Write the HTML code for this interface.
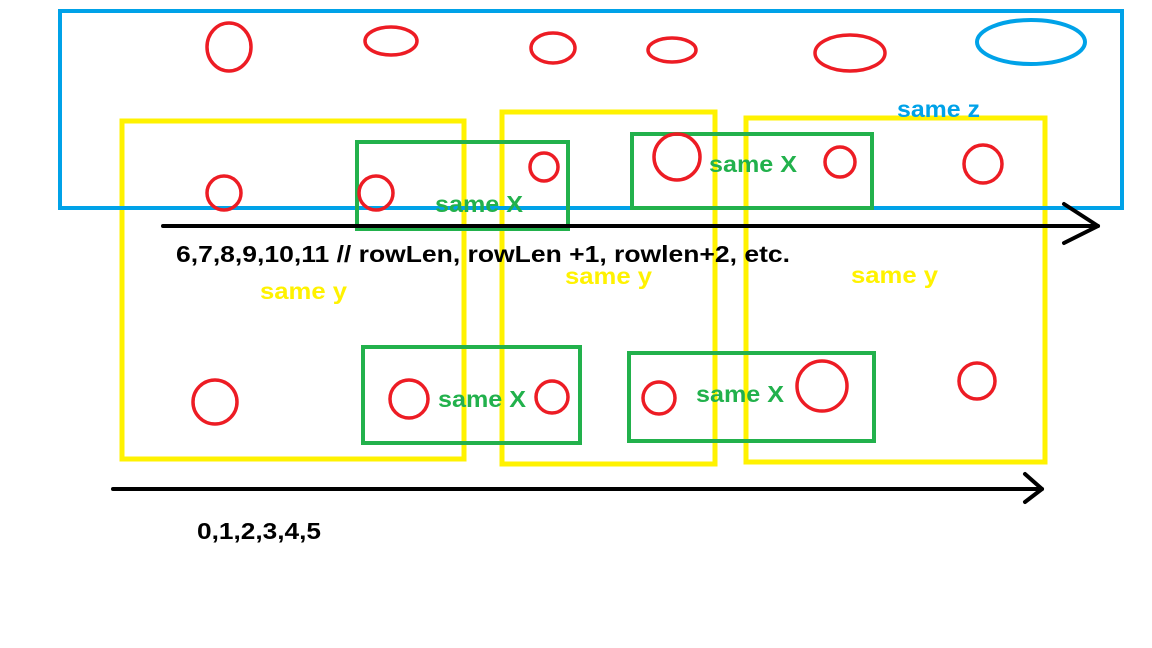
<!DOCTYPE html>
<html><head><style>html,body{margin:0;padding:0;background:#fff}svg{display:block}text{font-family:"Liberation Sans",sans-serif;font-weight:bold;font-size:23px}</style></head>
<body>
<svg width="1152" height="648" viewBox="0 0 1152 648" xmlns="http://www.w3.org/2000/svg">
<rect width="1152" height="648" fill="#fff"/>
<g fill="none" stroke-width="4">
<rect x="122" y="121" width="342" height="338" stroke="#fff200" stroke-width="5"/>
<rect x="502" y="112" width="213" height="352" stroke="#fff200" stroke-width="5"/>
<rect x="746" y="118" width="299" height="344" stroke="#fff200" stroke-width="5"/>
<rect x="60" y="11" width="1062" height="197" stroke="#00a2e8"/>
<ellipse cx="1031" cy="42" rx="54" ry="22" stroke="#00a2e8"/>
<rect x="357" y="142" width="211" height="87" stroke="#22b14c"/>
<rect x="632" y="134" width="240" height="74" stroke="#22b14c"/>
<rect x="363" y="347" width="217" height="96" stroke="#22b14c"/>
<rect x="629" y="353" width="245" height="88" stroke="#22b14c"/>
<g stroke="#ed1c24" stroke-width="3.5">
<ellipse cx="229" cy="47" rx="22" ry="24"/>
<ellipse cx="391" cy="41" rx="26" ry="14"/>
<ellipse cx="553" cy="48" rx="22" ry="15"/>
<ellipse cx="672" cy="50" rx="24" ry="12"/>
<ellipse cx="850" cy="53" rx="35" ry="18"/>
<circle cx="224" cy="193" r="17"/>
<circle cx="376" cy="193" r="17"/>
<circle cx="544" cy="167" r="14"/>
<circle cx="677" cy="157" r="23"/>
<circle cx="840" cy="162" r="15"/>
<circle cx="983" cy="164" r="19"/>
<circle cx="215" cy="402" r="22"/>
<circle cx="409" cy="399" r="19"/>
<circle cx="552" cy="397" r="16"/>
<circle cx="659" cy="398" r="16"/>
<circle cx="822" cy="386" r="25"/>
<circle cx="977" cy="381" r="18"/>
</g>
<g stroke="#000" stroke-width="4" stroke-linecap="round" stroke-linejoin="round">
<line x1="163" y1="226" x2="1098" y2="226"/>
<polyline points="1064,204 1098,226 1064,243"/>
<line x1="113" y1="489" x2="1042" y2="489"/>
<polyline points="1025,474 1042,489 1025,502"/>
</g>
</g>
<text x="897" y="117" fill="#00a2e8" textLength="83" lengthAdjust="spacingAndGlyphs">same z</text>
<g fill="#22b14c">
<text x="435" y="212" textLength="88" lengthAdjust="spacingAndGlyphs">same X</text>
<text x="709" y="172" textLength="88" lengthAdjust="spacingAndGlyphs">same X</text>
<text x="438" y="407" textLength="88" lengthAdjust="spacingAndGlyphs">same X</text>
<text x="696" y="402" textLength="88" lengthAdjust="spacingAndGlyphs">same X</text>
</g>
<g fill="#fff200">
<text x="260" y="299" textLength="87" lengthAdjust="spacingAndGlyphs">same y</text>
<text x="565" y="284" textLength="87" lengthAdjust="spacingAndGlyphs">same y</text>
<text x="851" y="283" textLength="87" lengthAdjust="spacingAndGlyphs">same y</text>
</g>
<text x="176" y="262" fill="#000" textLength="614" lengthAdjust="spacingAndGlyphs">6,7,8,9,10,11 // rowLen, rowLen +1, rowlen+2, etc.</text>
<text x="197" y="539" fill="#000" textLength="124" lengthAdjust="spacingAndGlyphs">0,1,2,3,4,5</text>
</svg>
</body></html>
